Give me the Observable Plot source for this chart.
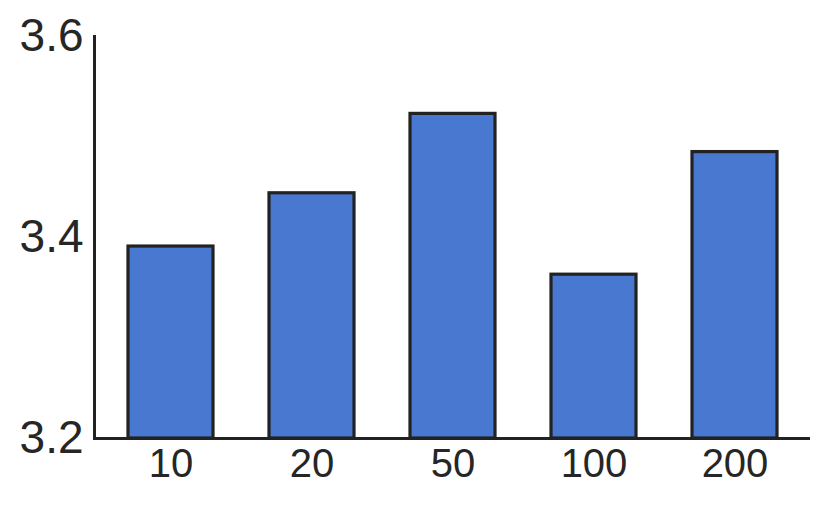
<!DOCTYPE html>
<html>
<head>
<meta charset="utf-8">
<script src="https://cdn.jsdelivr.net/npm/d3@7"></script>
<script src="https://cdn.jsdelivr.net/npm/@observablehq/plot@0.6"></script>
<style>
  html, body { margin: 0; padding: 0; background: #fff; }
  #chart svg { display: block; }
</style>
</head>
<body>
<div id="chart"></div>
<script>
const categories = ["10", "20", "50", "100", "200"];
const values = [3.391, 3.444, 3.523, 3.363, 3.485];
const yTicks = [3.2, 3.4, 3.6];

const data = categories.map((c, i) => ({category: c, value: values[i]}));

const chart = Plot.plot({
  width: 831,
  height: 505,
  marginLeft: 94,
  marginRight: 21,
  marginTop: 36,
  marginBottom: 67,
  style: {fontFamily: "'Liberation Sans', Arial, sans-serif", color: "#262626", background: "#fff"},
  x: {domain: categories, paddingInner: 0.4, paddingOuter: 0.225, label: null},
  y: {domain: [3.2, 3.6], label: null},
  marks: [
    Plot.barY(data, {x: "category", y1: 3.2, y2: "value", fill: "#4878CF", stroke: "#222222", strokeWidth: 3.2}),
    Plot.ruleY([3.2], {stroke: "#222222", strokeWidth: 3}),
    Plot.frame({anchor: "left", stroke: "#222222", strokeWidth: 3}),
    Plot.axisY({ticks: yTicks, tickFormat: d3.format(".1f"), tickSize: 0, tickPadding: 11, fontSize: 46, label: null}),
    Plot.axisX({tickSize: 0, tickPadding: 10, fontSize: 40, label: null})
  ]
});
document.getElementById("chart").appendChild(chart);
</script>
</body>
</html>
